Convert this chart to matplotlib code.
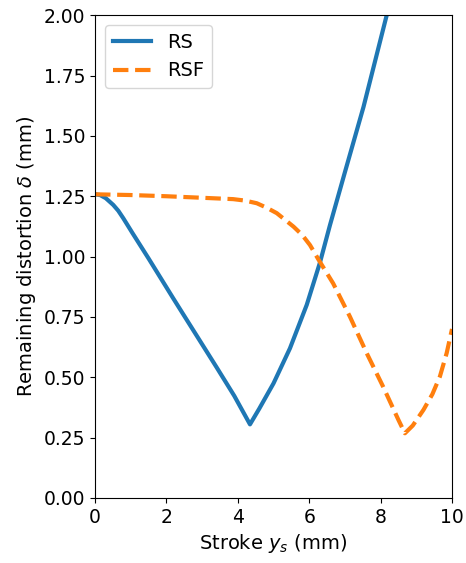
import numpy as np
import matplotlib
matplotlib.use("Agg")
import matplotlib.pyplot as plt

# RS
x_rs = [0.0, 0.14, 0.3, 0.51, 0.65, 0.79, 0.92, 1.05, 1.26, 1.5, 1.73, 2.19,
        2.47, 2.9, 3.41, 3.9, 4.34, 4.6, 5.0, 5.46, 5.93, 6.3, 6.58, 7.0, 7.52,
        8.17, 8.6, 10.0]
y_rs = [1.258, 1.255, 1.242, 1.214, 1.19, 1.159, 1.128, 1.097, 1.048, 0.992,
        0.937, 0.827, 0.761, 0.66, 0.54, 0.423, 0.305, 0.37, 0.475, 0.62, 0.80,
        0.975, 1.13, 1.35, 1.62, 2.0, 2.27, 3.1]

# RSF
x_rsf = [0.0, 1.0, 2.0, 2.94, 3.87, 4.2, 4.53, 4.8, 5.09, 5.3, 5.56, 5.8,
         6.02, 6.25, 6.67, 7.14, 7.61, 8.07, 8.5, 8.68, 8.9, 9.2, 9.45, 9.66,
         9.85, 10.0]
y_rsf = [1.258, 1.255, 1.25, 1.244, 1.238, 1.232, 1.221, 1.203, 1.18, 1.155,
         1.124, 1.09, 1.048, 0.99, 0.889, 0.751, 0.600, 0.461, 0.323, 0.268,
         0.30, 0.365, 0.43, 0.503, 0.60, 0.70]

fig = plt.figure(figsize=(4.66, 5.63), dpi=100)
ax = fig.add_axes([0.204, 0.1155, 0.766, 0.8575])

ax.plot(x_rs, y_rs, color="#1f77b4", linewidth=3, label="RS")
ax.plot(x_rsf, y_rsf, color="#ff7f0e", linewidth=3, linestyle="--", label="RSF")

ax.set_xlim(0, 10)
ax.set_ylim(0, 2)
ax.set_yticks(np.arange(0, 2.01, 0.25))
ax.tick_params(labelsize=13.5)
ax.set_xlabel("Stroke $y_s$ (mm)", fontsize=14)
ax.set_ylabel(r"Remaining distortion $\delta$ (mm)", fontsize=14)
ax.legend(loc="upper left", fontsize=14)

fig.savefig("out.png", dpi=100)
